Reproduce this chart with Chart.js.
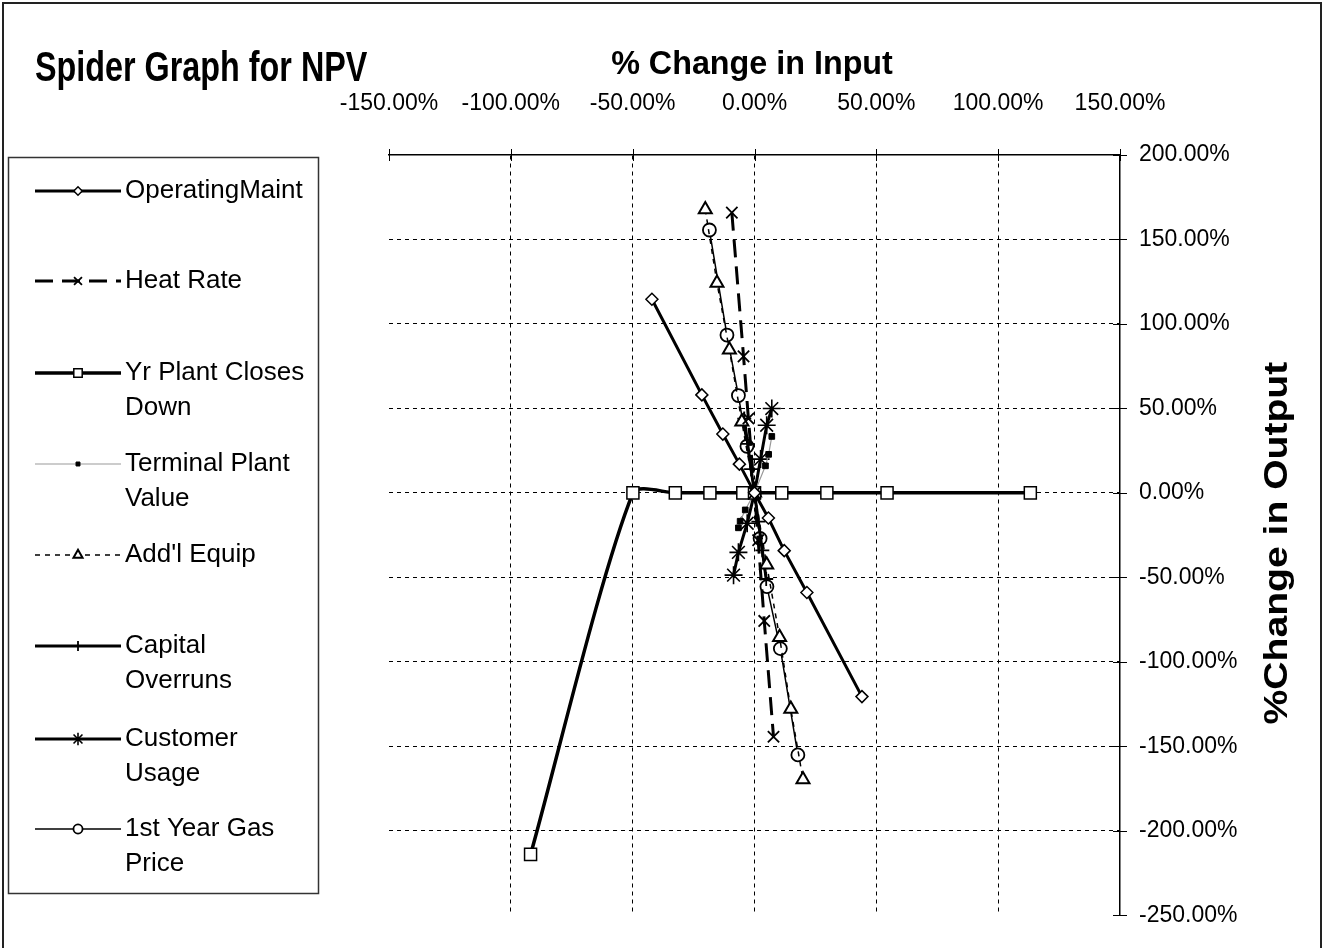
<!DOCTYPE html>
<html>
<head>
<meta charset="utf-8">
<title>Spider Graph for NPV</title>
<script src="https://cdn.jsdelivr.net/npm/chart.js"></script>
<style>
  html, body { margin: 0; padding: 0; background: #fff; }
  #wrap { width: 1324px; height: 948px; position: relative; }
</style>
</head>
<body>
<div id="wrap"><canvas id="spider" width="1324" height="948"></canvas></div>
<script>
// ---- data (all values in %) ----
var chartTitle = "Spider Graph for NPV";
var xTitle = "% Change in Input";
var yTitle = "%Change in Output";

var xRange = [-150, 150];
var yRange = [-250, 200];
var tickStep = 50;

var seriesNames = ["OperatingMaint", "Heat Rate", "Yr Plant Closes Down", "Terminal Plant Value",
                   "Add'l Equip", "Capital Overruns", "Customer Usage", "1st Year Gas Price"];
var legendLines = [["OperatingMaint"], ["Heat Rate"], ["Yr Plant Closes", "Down"], ["Terminal Plant", "Value"],
                   ["Add'l Equip"], ["Capital", "Overruns"], ["Customer", "Usage"], ["1st Year Gas", "Price"]];

var opMaintX = [-42.1, -21.6, -13.0, -6.2, 0, 5.7, 12.2, 21.5, 44.1];
var opMaintY = [114.6, 58.0, 34.8, 17.0, 0, -14.9, -34.2, -59.0, -120.6];

var heatRateX = [-9.3, -4.5, -2.5, 0, 1.5, 4.0, 7.8];
var heatRateY = [165.9, 80.8, 44.0, 0, -28.0, -75.8, -144.4];

var plantCloseX = [-91.9, -49.9, -32.5, -18.3, -4.8, 0, 11.2, 29.7, 54.4, 113.2];
var plantCloseY = [-214.0, 0, 0, 0, 0, 0, 0, 0, 0, 0];

var terminalX = [-6.6, -5.9, -3.8, 0, 4.5, 5.8, 7.1];
var terminalY = [-20.7, -16.8, -10.1, 0, 16.0, 22.8, 33.4];

var addEquipX = [-20.2, -15.4, -10.3, -5.2, 0, 5.0, 10.3, 14.9, 19.9];
var addEquipY = [167.8, 124.3, 84.7, 42.1, 0, -42.5, -85.5, -128.0, -169.6];

var capitalX = [-4.2, -2.8, -1.4, 0, 1.6, 3.2, 4.8];
var capitalY = [44.0, 29.0, 14.0, 0, -17.0, -34.0, -51.0];

var customerX = [-8.6, -6.6, -3.0, 0, 2.5, 5.0, 7.1];
var customerY = [-48.7, -35.2, -18.0, 0, 20.0, 40.0, 49.9];

var gasX = [-18.5, -11.3, -6.6, -3.1, 0, 2.3, 5.1, 10.6, 17.8];
var gasY = [155.6, 93.4, 57.6, 27.6, 0, -27.0, -55.5, -92.2, -155.1];

var FONT = '"Liberation Sans", Arial, Helvetica, sans-serif';

function pts(xs, ys) {
    var out = [];
    for (var i = 0; i < xs.length; i++) {
        out.push({ x: xs[i], y: ys[i] });
    }
    return out;
}

function pct(v) {
    return Number(v).toFixed(2) + "%";
}

var datasets = [
    { label: seriesNames[0], data: pts(opMaintX, opMaintY), borderWidth: 3,
      pointStyle: 'rectRot', pointRadius: 6, pointBorderWidth: 1.5, pointBackgroundColor: '#fff' },
    { label: seriesNames[1], data: pts(heatRateX, heatRateY), borderWidth: 3, borderDash: [18, 9],
      pointStyle: 'crossRot', pointRadius: 8, pointBorderWidth: 1.8, pointBackgroundColor: '#fff' },
    { label: seriesNames[2], data: pts(plantCloseX, plantCloseY), borderWidth: 3.5, tension: 0.25,
      pointStyle: 'rect', pointRadius: 8.5, pointBorderWidth: 1.5, pointBackgroundColor: '#fff' },
    { label: seriesNames[3], data: pts(terminalX, terminalY), borderWidth: 1.2, borderColor: '#999',
      pointStyle: 'rect', pointRadius: 4, pointBorderWidth: 1, pointBackgroundColor: '#000', pointBorderColor: '#000' },
    { label: seriesNames[4], data: pts(addEquipX, addEquipY), borderWidth: 1.5, borderDash: [5, 5],
      pointStyle: 'triangle', pointRadius: 7.5, pointBorderWidth: 2, pointBackgroundColor: '#fff' },
    { label: seriesNames[5], data: pts(capitalX, capitalY), borderWidth: 3,
      pointStyle: 'cross', pointRadius: 7, pointBorderWidth: 1.8, pointBackgroundColor: '#fff' },
    { label: seriesNames[6], data: pts(customerX, customerY), borderWidth: 3,
      pointStyle: 'star', pointRadius: 9, pointBorderWidth: 1.6, pointBackgroundColor: '#fff' },
    { label: seriesNames[7], data: pts(gasX, gasY), borderWidth: 1.5,
      pointStyle: 'circle', pointRadius: 6.5, pointBorderWidth: 1.8, pointBackgroundColor: '#fff' }
];
datasets.forEach(function (d) {
    d.showLine = true;
    if (!d.borderColor) d.borderColor = '#000';
    if (!d.pointBorderColor) d.pointBorderColor = '#000';
    if (d.tension === undefined) d.tension = 0;
});

function gridColor(edges) {
    return function (c) {
        if (c.tick && edges.indexOf(c.tick.value) >= 0) return 'rgba(0,0,0,0)';
        return '#000';
    };
}

function drawMarker(ctx, ds, x, y, scale) {
    if (!Chart.helpers || !Chart.helpers.drawPoint) return;
    ctx.save();
    ctx.setLineDash([]);
    ctx.fillStyle = ds.pointBackgroundColor;
    ctx.strokeStyle = ds.pointBorderColor;
    ctx.lineWidth = ds.pointBorderWidth;
    Chart.helpers.drawPoint(ctx, { pointStyle: ds.pointStyle, radius: ds.pointRadius * scale,
        rotation: 0, borderWidth: ds.pointBorderWidth }, x, y);
    ctx.restore();
}

// text drawn with a horizontal / vertical stretch (the original fonts look condensed)
function stretchText(ctx, text, x, y, sx, sy, angle) {
    ctx.save();
    ctx.translate(x, y);
    if (angle) ctx.rotate(angle);
    ctx.scale(sx, sy);
    ctx.fillText(text, 0, 0);
    ctx.restore();
}

//////////// frame, titles, cross ticks and legend ////////////
var decorPlugin = {
    id: 'decor',
    afterDraw: function (chart) {
        var ctx = chart.ctx;
        var xs = chart.scales.x, ys = chart.scales.y;
        var area = chart.chartArea;
        ctx.save();

        ctx.strokeStyle = '#222';
        ctx.lineWidth = 2;
        ctx.strokeRect(3, 3, 1318, 980);

        // tick marks crossing the axis lines
        ctx.strokeStyle = '#000';
        ctx.lineWidth = 1;
        xs.ticks.forEach(function (t) {
            var px = Math.round(xs.getPixelForValue(t.value)) + 0.5;
            ctx.beginPath();
            ctx.moveTo(px, area.top - 6);
            ctx.lineTo(px, area.top + 6);
            ctx.stroke();
        });
        ys.ticks.forEach(function (t) {
            var py = Math.round(ys.getPixelForValue(t.value)) + 0.5;
            ctx.beginPath();
            ctx.moveTo(area.right - 7, py);
            ctx.lineTo(area.right + 7, py);
            ctx.stroke();
        });

        // titles
        ctx.fillStyle = '#000';
        ctx.textBaseline = 'middle';
        ctx.textAlign = 'left';
        ctx.font = 'bold 42px ' + FONT;
        stretchText(ctx, chartTitle, 35, 69, 0.77, 1);
        ctx.textAlign = 'center';
        ctx.font = 'bold 34px ' + FONT;
        stretchText(ctx, xTitle, 752, 65, 0.95, 1);
        ctx.font = 'bold 34px ' + FONT;
        stretchText(ctx, yTitle, 1278, (area.top + area.bottom) / 2 + 8, 1.15, 1, -Math.PI / 2);

        // legend box
        ctx.strokeStyle = '#333';
        ctx.lineWidth = 1.5;
        ctx.strokeRect(8.5, 157.5, 310, 736);

        var rowY = [191, 281, 373, 464, 555, 646, 739, 829];
        ctx.font = '26px ' + FONT;
        ctx.textAlign = 'left';
        chart.data.datasets.forEach(function (ds, i) {
            var y = rowY[i];
            ctx.save();
            ctx.strokeStyle = ds.borderColor;
            ctx.lineWidth = ds.borderWidth;
            ctx.setLineDash(ds.borderDash || []);
            ctx.beginPath();
            ctx.moveTo(35, y);
            ctx.lineTo(121, y);
            ctx.stroke();
            ctx.restore();
            drawMarker(ctx, ds, 78, y, 0.7);
            ctx.fillStyle = '#000';
            legendLines[i].forEach(function (line, k) {
                ctx.fillText(line, 125, y + k * 35);
            });
        });

        ctx.restore();
    }
};

new Chart(document.getElementById('spider'), {
    type: 'scatter',
    data: { datasets: datasets },
    plugins: [decorPlugin],
    options: {
        responsive: false,
        animation: false,
        events: [],
        layout: { padding: { left: 389, top: 0, right: 0, bottom: 18 } },
        plugins: { legend: { display: false }, tooltip: { enabled: false }, title: { display: false } },
        scales: {
            x: {
                type: 'linear', position: 'top', min: xRange[0], max: xRange[1],
                afterFit: function (s) { s.height = 155; },
                ticks: { stepSize: tickStep, autoSkip: false, maxRotation: 0, padding: 38, color: '#000',
                         font: { family: FONT, size: 23 }, callback: pct },
                grid: { drawTicks: false, color: gridColor([-150, 150]), lineWidth: 1 },
                border: { display: true, color: '#000', width: 1.5, dash: [4, 4] }
            },
            y: {
                type: 'linear', position: 'right', min: yRange[0], max: yRange[1],
                afterFit: function (s) { s.width = 204; },
                ticks: { stepSize: tickStep, autoSkip: false, padding: 19, color: '#000',
                         font: { family: FONT, size: 23 }, callback: pct },
                grid: { drawTicks: false, color: gridColor([200, -250]), lineWidth: 1 },
                border: { display: true, color: '#000', width: 1.5, dash: [4, 4] }
            }
        }
    }
});
</script>
</body>
</html>
